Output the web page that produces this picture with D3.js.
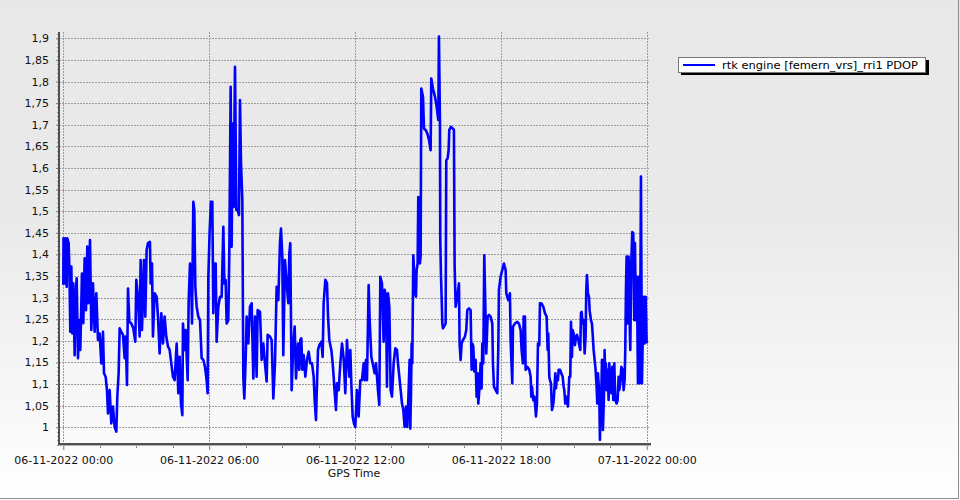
<!DOCTYPE html>
<html><head><meta charset="utf-8">
<script src="https://cdn.jsdelivr.net/npm/d3@7"></script>
<style>
body{margin:0;background:#fff;}
svg{display:block;font-family:"DejaVu Sans",Verdana,sans-serif;}
</style>
</head><body>
<svg id="chart" width="960" height="500"></svg>
<script>
// ---- data (minutes after 06-11-2022 00:00, PDOP value) ----
const minutes = [
0,0.5,3.4,5.0,8.3,9.9,13.2,14.9,17.3,19.8,22.3,24.7,28.0,30.5,33.0,36.3,38.7,42.0,46.1,49.4,
52.7,56.0,59.3,61.8,65.9,69.2,73.3,77.4,81.5,85.6,89.7,93.8,98.0,100.4,104.5,107.8,110.3,114.4,118.5,122.6,
126.7,130.9,133.3,136.6,139.1,143.2,147.3,151.4,153.9,157.2,159.7,163.0,167.9,172.8,177.7,180.2,184.3,188.4,190.9,194.2,
199.1,202.4,205.7,209.0,213.9,215.6,218.9,221.3,225.5,230.4,233.7,237.8,241.9,246.0,250.1,254.2,258.4,262.5,266.6,270.7,274.8,
279.8,283.9,287.2,290.5,293.8,295.4,298.7,302.0,305.3,307.0,309.4,312.7,315.2,317.7,320.9,323.4,325.9,329.2,333.3,337.4,
341.5,345.6,349.7,353.8,356.3,358.0,361.3,364.5,367.8,370.3,372.8,376.1,378.5,382.6,386.8,390.9,395.0,397.5,400.7,403.2,
407.3,409.8,413.1,415.5,418.0,420.5,423.8,427.1,430.4,433.6,436.1,438.6,441.9,444.3,446.8,450.1,452.6,456.7,460.8,464.9,
469.0,473.1,477.2,479.7,485.5,489.6,493.7,497.8,501.9,504.4,510.1,514.3,518.4,522.5,526.6,530.7,534.8,537.3,540.6,543.0,
547.2,551.3,555.4,557.9,560.3,563.6,
567.8,571.1,574.4,579.3,582.6,585.1,587.5,590.0,593.3,597.4,601.5,605.6,609.7,613.9,618.0,620.4,623.7,626.2,628.7,632.0,
636.9,640.2,642.6,646.8,650.9,653.3,656.6,661.6,664.9,667.3,669.8,673.1,675.5,679.7,683.8,687.9,692.0,696.1,700.2,702.7,
706.0,708.5,710.9,714.2,717.5,720.8,724.9,729.0,733.1,737.2,741.4,743.8,747.1,749.6,753.7,756.2,760.3,763.6,768.5,771.8,
776.7,780.0,782.5,786.6,790.7,793.2,796.5,798.9,801.4,804.7,808.0,811.3,815.4,819.5,823.6,826.1,829.4,832.7,836.0,839.2,
842.5,845.8,849.1,852.4,
854.8,856.5,858.1,859.8,861.4,863.9,866.4,868.8,870.5,872.1,874.6,876.2,878.7,880.3,882.0,883.6,887.8,890.2,894.3,898.4,
902.6,906.7,908.3,912.4,917.4,921.5,925.6,927.2,929.7,930.5,932.2,933.8,935.5,937.1,943.7,945.3,948.6,951.1,952.7,956.9,
961.8,964.2,965.9,968.4,972.5,976.6,978.2,980.7,983.2,986.5,991.4,994.7,997.2,1001.3,1005.4,1007.9,1009.5,1012.0,1014.4,1017.7,
1020.2,1022.7,1024.3,1027.6,1030.1,1032.5,1034.2,1036.6,1039.1,1041.6,1044.0,1047.3,1050.6,1054.7,1058.9,1060.5,1063.0,1067.1,1071.2,1073.6,
1075.3,1079.4,1083.5,1087.6,1091.8,1093.4,1098.3,1102.4,1104.1,1108.2,1109.9,1114.8,1120.5,1124.7,1128.8,1131.2,1134.5,1136.2,1139.5,1141.1,
1145.3,1150.2,1153.5,1155.2,1156.8,1160.1,1162.6,1165.0,1166.7,1169.1,1171.6,1174.9,1176.5,1179.8,1184.8,1188.9,1193.0,1195.5,1197.1,1199.6,
1201.2,1203.7,1206.2,1209.5,1211.1,1214.4,1216.0,1218.5,1221.0,1222.6,1225.9,1229.2,1232.5,1235.0,1236.6,1239.1,1240.7,1244.0,1245.6,1248.9,
1251.4,1253.1,1255.5,1257.2,1259.6,1262.9,1265.4,1267.9,1271.1,1273.6,1276.1,1277.7,1279.4,1281.8,1284.3,1286.8,1289.2,1290.9,1292.5,1295.0,
1297.5,1299.1,1302.4,1304.9,1306.5,1309.0,1311.5,1313.9,1316.4,1318.0,1319.7,1321.3,1323.0,1324.6,1326.3,1327.9,1329.6,1332.0,1334.5,1336.1,
1337.8,1339.4,1341.1,1343.5,1346.0,1347.7,1350.1,1352.6,1355.1,1357.5,1360.0,1362.5,1365.7,1368.2,1370.7,1372.3,1374.8,1377.3,1380.6,1383.0,
1385.5,1387.1,1388.8,1390.4,1392.1,1393.7,1395.4,1397.8,1399.5,1402.0,1404.4,1406.9,1409.3,1411.0,1413.5,1415.9,1418.4,1420.9,1423.3,1425.8,
1428.3,1429.9,1432.4,1434.8,1437.3,1439.8
];
const pdop = [
1.330,1.437,1.333,1.437,1.325,1.437,1.426,1.372,1.221,1.372,1.217,1.333,1.167,1.302,1.345,1.160,1.248,1.179,1.356,1.241,
1.391,1.271,1.418,1.287,1.433,1.225,1.333,1.221,1.310,1.202,1.217,1.148,1.221,1.125,1.117,1.086,1.032,1.086,1.009,1.048,
1.001,0.990,1.071,1.125,1.229,1.221,1.214,1.160,1.210,1.098,1.321,1.244,1.240,1.229,1.198,1.341,1.302,1.210,1.387,1.225,
1.387,1.256,1.410,1.426,1.429,1.333,1.379,1.210,1.310,1.302,1.256,1.171,1.264,1.194,1.256,1.210,1.187,1.179,1.148,1.117,1.109,
1.194,1.079,1.163,1.055,1.028,1.240,1.179,1.225,1.148,1.109,1.291,1.379,1.356,1.240,1.522,1.503,1.325,1.279,1.256,1.248,
1.160,1.156,1.140,1.109,1.079,1.348,1.456,1.522,1.522,1.264,1.379,1.379,1.198,1.279,1.302,1.302,1.464,1.333,1.341,1.240,
1.248,1.406,1.788,1.418,1.703,1.510,1.834,1.503,1.503,1.491,1.757,1.611,1.526,1.117,1.067,1.156,1.256,1.194,1.279,1.287,
1.113,1.256,1.117,1.271,1.267,1.156,1.194,1.148,1.106,1.214,1.210,1.202,1.067,1.148,1.325,1.294,1.426,1.460,1.395,1.167,
1.387,1.333,1.287,1.402,1.426,1.086,
1.194,1.233,1.113,1.194,1.133,1.202,1.206,1.133,1.167,1.117,1.156,1.175,1.148,1.148,1.117,1.063,1.017,1.102,1.179,1.190,
1.198,1.163,1.287,1.341,1.333,1.260,1.202,1.179,1.148,1.117,1.082,1.040,1.102,1.086,1.148,1.194,1.160,1.079,1.202,1.163,
1.117,1.179,1.102,1.025,1.009,1.001,1.086,1.025,1.109,1.109,1.148,1.109,1.156,1.109,1.329,1.248,1.163,1.148,1.125,1.148,
1.086,1.052,1.348,1.333,1.198,1.318,1.302,1.094,1.310,1.279,1.086,1.071,1.148,1.183,1.179,1.148,1.117,1.086,1.055,1.040,
1.001,1.048,1.001,1.086,
1.156,0.997,1.071,1.194,1.148,1.398,1.348,1.310,1.302,1.364,1.379,1.533,1.487,1.379,1.395,1.784,1.765,1.691,1.688,1.680,
1.665,1.641,1.807,1.784,1.765,1.742,1.711,1.904,1.703,1.433,1.352,1.302,1.240,1.229,1.240,1.618,1.622,1.641,1.688,1.695,
1.691,1.688,1.375,1.279,1.302,1.333,1.194,1.156,1.194,1.202,1.210,1.225,1.271,1.275,1.271,1.133,1.194,1.187,1.129,1.156,
1.071,1.125,1.055,1.094,1.148,1.090,1.194,1.148,1.398,1.287,1.171,1.256,1.260,1.256,1.240,1.148,1.094,1.086,1.079,1.179,
1.318,1.348,1.364,1.379,1.364,1.310,1.294,1.310,1.202,1.102,1.233,1.240,1.244,1.240,1.225,1.179,1.148,1.256,1.256,1.133,
1.140,1.133,1.117,1.071,1.094,1.063,1.071,1.048,1.025,1.055,1.194,1.190,1.287,1.287,1.279,1.264,1.256,1.179,1.217,1.117,
1.109,1.102,1.040,1.055,1.071,1.125,1.090,1.117,1.109,1.133,1.133,1.125,1.117,1.094,1.086,1.055,1.071,1.063,1.048,1.117,
1.117,1.244,1.163,1.225,1.217,1.190,1.210,1.214,1.202,1.190,1.179,1.264,1.267,1.240,1.248,1.171,1.210,1.318,1.352,1.310,
1.302,1.271,1.248,1.240,1.217,1.179,1.156,1.133,1.094,1.055,1.125,1.102,1.071,0.971,1.055,1.071,1.156,0.994,1.071,1.179,
1.102,1.148,1.086,1.133,1.063,1.148,1.102,1.079,1.140,1.063,1.148,1.063,1.055,1.063,1.117,1.086,1.102,1.140,1.133,1.086,
1.109,1.179,1.318,1.395,1.240,1.310,1.395,1.248,1.179,1.379,1.452,1.449,1.248,1.426,1.248,1.348,1.102,1.348,1.102,1.580,
1.102,1.194,1.302,1.194,1.302,1.194
];
const yTickValues = [1,1.05,1.1,1.15,1.2,1.25,1.3,1.35,1.4,1.45,1.5,1.55,1.6,1.65,1.7,1.75,1.8,1.85,1.9];
const xTickHours = [0,6,12,18,24];
const xTickLabels = ["06-11-2022 00:00","06-11-2022 06:00","06-11-2022 12:00","06-11-2022 18:00","07-11-2022 00:00"];
const xTitle = "GPS Time";
const seriesName = "rtk engine [femern_vrs]_rri1 PDOP";

// ---- setup ----
const svg = d3.select("#chart");
const start = new Date(2022,10,6,0,0,0);
const end = new Date(2022,10,7,0,0,0);
const data = minutes.map((m,i)=>({t:new Date(start.getTime()+m*60000), v:pdop[i]}));

const x = d3.scaleTime().domain([start,end]).range([63.3,646.7]);
const y = d3.scaleLinear().domain([1,1.9]).range([427.3,38.3]);
const plotLeft = 59, plotRight = 650, plotTop = 32, plotBottom = 444;
const fmt = d3.formatLocale({decimal:",",thousands:".",grouping:[3],currency:["","€"]}).format("~g");

// background
const defs = svg.append("defs");
const grad = defs.append("linearGradient").attr("id","bg").attr("x1",0).attr("y1",0).attr("x2",0).attr("y2",1);
grad.append("stop").attr("offset","0%").attr("stop-color","#e8e8e8");
grad.append("stop").attr("offset","45%").attr("stop-color","#eaeaea");
grad.append("stop").attr("offset","100%").attr("stop-color","#ffffff");
svg.append("rect").attr("width",960).attr("height",500).attr("fill","url(#bg)");
svg.append("line").attr("x1",958.5).attr("x2",958.5).attr("y1",0).attr("y2",498.5).attr("stroke","#8c8c8c").attr("stroke-width",1);
svg.append("line").attr("x1",0).attr("x2",959).attr("y1",498.5).attr("y2",498.5).attr("stroke","#8c8c8c").attr("stroke-width",1);

// grid
const grid = svg.append("g").attr("stroke","#9c9c9c").attr("stroke-width",1).attr("stroke-dasharray","2,1");
grid.selectAll("line.h").data(yTickValues).join("line").attr("class","h")
  .attr("x1",plotLeft).attr("x2",plotRight)
  .attr("y1",d=>Math.round(y(d))+0.5).attr("y2",d=>Math.round(y(d))+0.5);
const xTicks = xTickHours.map(h=>d3.timeHour.offset(start,h));
grid.selectAll("line.v").data(xTicks).join("line").attr("class","v")
  .attr("y1",plotTop).attr("y2",plotBottom)
  .attr("x1",d=>Math.round(x(d))+0.5).attr("x2",d=>Math.round(x(d))+0.5);

// y axis
const yAxis = d3.axisLeft(y).tickValues(yTickValues).tickFormat(fmt).tickSize(3).tickPadding(7);
const gy = svg.append("g").attr("transform",`translate(${plotLeft},0)`).call(yAxis);
gy.select(".domain").remove();
gy.selectAll(".tick line").attr("stroke","#777");
gy.selectAll(".tick text").attr("font-size","11px").attr("fill","#111").attr("font-family","DejaVu Sans, Verdana, sans-serif");
// minor y ticks
const minorY = d3.range(0.96,1.915,0.01).filter(v=>!yTickValues.some(t=>Math.abs(t-v)<1e-6));
svg.append("g").selectAll("line").data(minorY).join("line")
  .attr("x1",plotLeft-2).attr("x2",plotLeft).attr("y1",d=>Math.round(y(d))+0.5).attr("y2",d=>Math.round(y(d))+0.5)
  .attr("stroke","#9a9a9a");

// x axis
const xAxis = d3.axisBottom(x).tickValues(xTicks).tickFormat((d,i)=>xTickLabels[i]).tickSize(5).tickPadding(6);
const gx = svg.append("g").attr("transform",`translate(0,${plotBottom+1})`).call(xAxis);
gx.select(".domain").remove();
gx.selectAll(".tick line").attr("stroke","#777");
gx.selectAll(".tick text").attr("font-size","11px").attr("fill","#111").attr("font-family","DejaVu Sans, Verdana, sans-serif");
const minorX = d3.range(0,24.01,1.5).filter(h=>h%6!==0).map(h=>d3.timeMinute.offset(start,h*60));
svg.append("g").selectAll("line").data(minorX).join("line")
  .attr("x1",d=>Math.round(x(d))+0.5).attr("x2",d=>Math.round(x(d))+0.5)
  .attr("y1",plotBottom+1).attr("y2",plotBottom+4).attr("stroke","#888");

svg.append("text").attr("x",354).attr("y",477).attr("text-anchor","middle")
  .attr("font-size","11px").attr("fill","#111").text(xTitle);

// axis lines
svg.append("line").attr("x1",plotLeft).attr("x2",plotLeft).attr("y1",plotTop).attr("y2",plotBottom+1)
  .attr("stroke","#505050").attr("stroke-width",2);
svg.append("line").attr("x1",plotLeft-1).attr("x2",plotRight+1).attr("y1",plotBottom).attr("y2",plotBottom)
  .attr("stroke","#505050").attr("stroke-width",2);
svg.append("line").attr("x1",plotLeft).attr("x2",plotRight+1).attr("y1",plotBottom+1.5).attr("y2",plotBottom+1.5)
  .attr("stroke","#b0b0b0").attr("stroke-width",1);

// series
const line = d3.line().x(d=>x(d.t)).y(d=>y(d.v));
svg.append("path").datum(data).attr("d",line).attr("fill","none")
  .attr("stroke","#0000ff").attr("stroke-width",2.6).attr("stroke-linejoin","round");

// legend
const lg = svg.append("g");
lg.append("rect").attr("x",681).attr("y",60).attr("width",248).attr("height",15).attr("fill","#000");
lg.append("rect").attr("x",678.5).attr("y",57.5).attr("width",247).attr("height",15).attr("fill","#fff").attr("stroke","#777");
lg.append("line").attr("x1",683).attr("x2",715).attr("y1",65).attr("y2",65).attr("stroke","#0000ff").attr("stroke-width",2);
lg.append("text").attr("x",722).attr("y",69).attr("font-size","11px").attr("fill","#000")
  .attr("textLength",196).attr("lengthAdjust","spacingAndGlyphs").text(seriesName);
</script>
</body></html>
